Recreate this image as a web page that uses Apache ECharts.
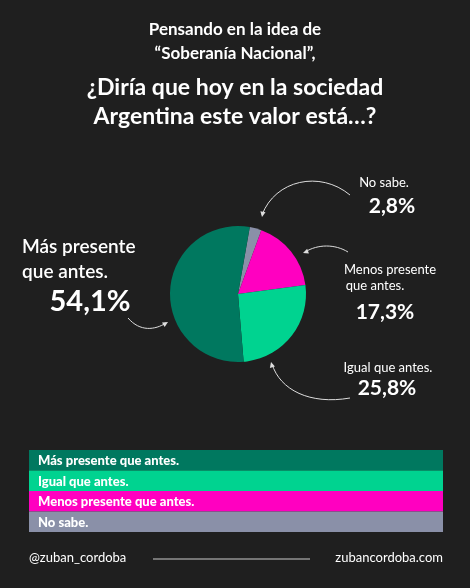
<!DOCTYPE html>
<html><head><meta charset="utf-8">
<script src="https://cdn.jsdelivr.net/npm/echarts@6/dist/echarts.min.js"></script>
<style>html,body{margin:0;background:#1f1f1f}#c{width:470px;height:588px}</style>
</head><body><div id="c"></div>
<script>
const categories = ['No sabe.', 'Menos presente que antes.', 'Igual que antes.', 'Más presente que antes.'];
const values = [2.8, 17.3, 25.8, 54.1];
const colors = ['#8a90a8', '#ff00c0', '#00d390', '#00785f'];
const legendOrder = [3, 2, 1, 0];

const F = 'Lato, "Noto Sans", sans-serif';
const chart = echarts.init(document.getElementById('c'));
const txt = (x, y, text, size, align, weight) => ({
  type: 'text', x: x, y: y,
  style: { text: text, fill: '#fff', font: (weight || 'bold') + ' ' + size + 'px ' + F, textAlign: align || 'center', textVerticalAlign: 'middle' }
});
const curve = (p) => ({ type: 'bezierCurve', shape: { x1: p[0], y1: p[1], cpx1: p[2], cpy1: p[3], cpx2: p[4], cpy2: p[5], x2: p[6], y2: p[7] }, style: { stroke: '#ddd', lineWidth: 1, fill: null } });
const head = (x, y, ang) => {
  const a = ang * Math.PI / 180, s = 6;
  return { type: 'polygon', shape: { points: [[x, y], [x - s * Math.cos(a - 0.45), y - s * Math.sin(a - 0.45)], [x - s * Math.cos(a + 0.45), y - s * Math.sin(a + 0.45)]] }, style: { fill: '#ddd' } };
};
const pct = (v) => v.toFixed(1).replace('.', ',') + '%';

const legendEls = [];
legendOrder.forEach((idx, i) => {
  const y = 450 + i * 20.5;
  legendEls.push({ type: 'rect', shape: { x: 29, y: y, width: 414, height: 20.5 }, style: { fill: colors[idx] } });
  legendEls.push(txt(38, y + 11, categories[idx], 13, 'left', '900'));
});

chart.setOption({
  backgroundColor: '#1f1f1f',
  series: [{
    type: 'pie', center: [238, 294], radius: 68, startAngle: 80, clockwise: true,
    label: { show: false }, labelLine: { show: false }, silent: true,
    itemStyle: { borderWidth: 0 },
    data: categories.map((c, i) => ({ name: c, value: values[i], itemStyle: { color: colors[i] } }))
  }],
  graphic: [
    txt(235, 30, 'Pensando en la idea de', 17),
    txt(235, 54, '“Soberanía Nacional”,', 17),
    txt(235, 88, '¿Diría que hoy en la sociedad', 23),
    txt(235, 117, 'Argentina este valor está…?', 23),
    txt(22, 247, 'Más presente', 19, 'left', '600'),
    txt(22, 272, 'que antes.', 19, 'left', '600'),
    txt(90, 302, pct(values[3]), 29, 'center'),
    txt(384, 183, 'No sabe.', 13, 'center', 'normal'),
    txt(392, 206, pct(values[0]), 21),
    txt(390, 270, 'Menos presente', 13, 'center', 'normal'),
    txt(375, 286, 'que antes.', 13, 'center', 'normal'),
    txt(385, 312, pct(values[1]), 21),
    txt(388, 368, 'Igual que antes.', 13, 'center', 'normal'),
    txt(387, 388, pct(values[2]), 21),
    curve([350, 195, 320, 170, 275, 180, 262, 215]), head(262, 217, 100),
    curve([348, 252, 335, 244, 318, 244, 305, 252]), head(303, 253, 160),
    curve([350, 398, 310, 405, 280, 390, 272, 364]), head(271, 362, -105),
    curve([128, 318, 140, 332, 155, 330, 166, 323]), head(168, 322, -30),
    ...legendEls,
    txt(29, 558, '@zuban_cordoba', 13, 'left', 'normal'),
    { type: 'line', shape: { x1: 153, y1: 559, x2: 310, y2: 559 }, style: { stroke: '#ccc', lineWidth: 1 } },
    txt(443, 558, 'zubancordoba.com', 13, 'right', 'normal')
  ]
});
</script></body></html>
